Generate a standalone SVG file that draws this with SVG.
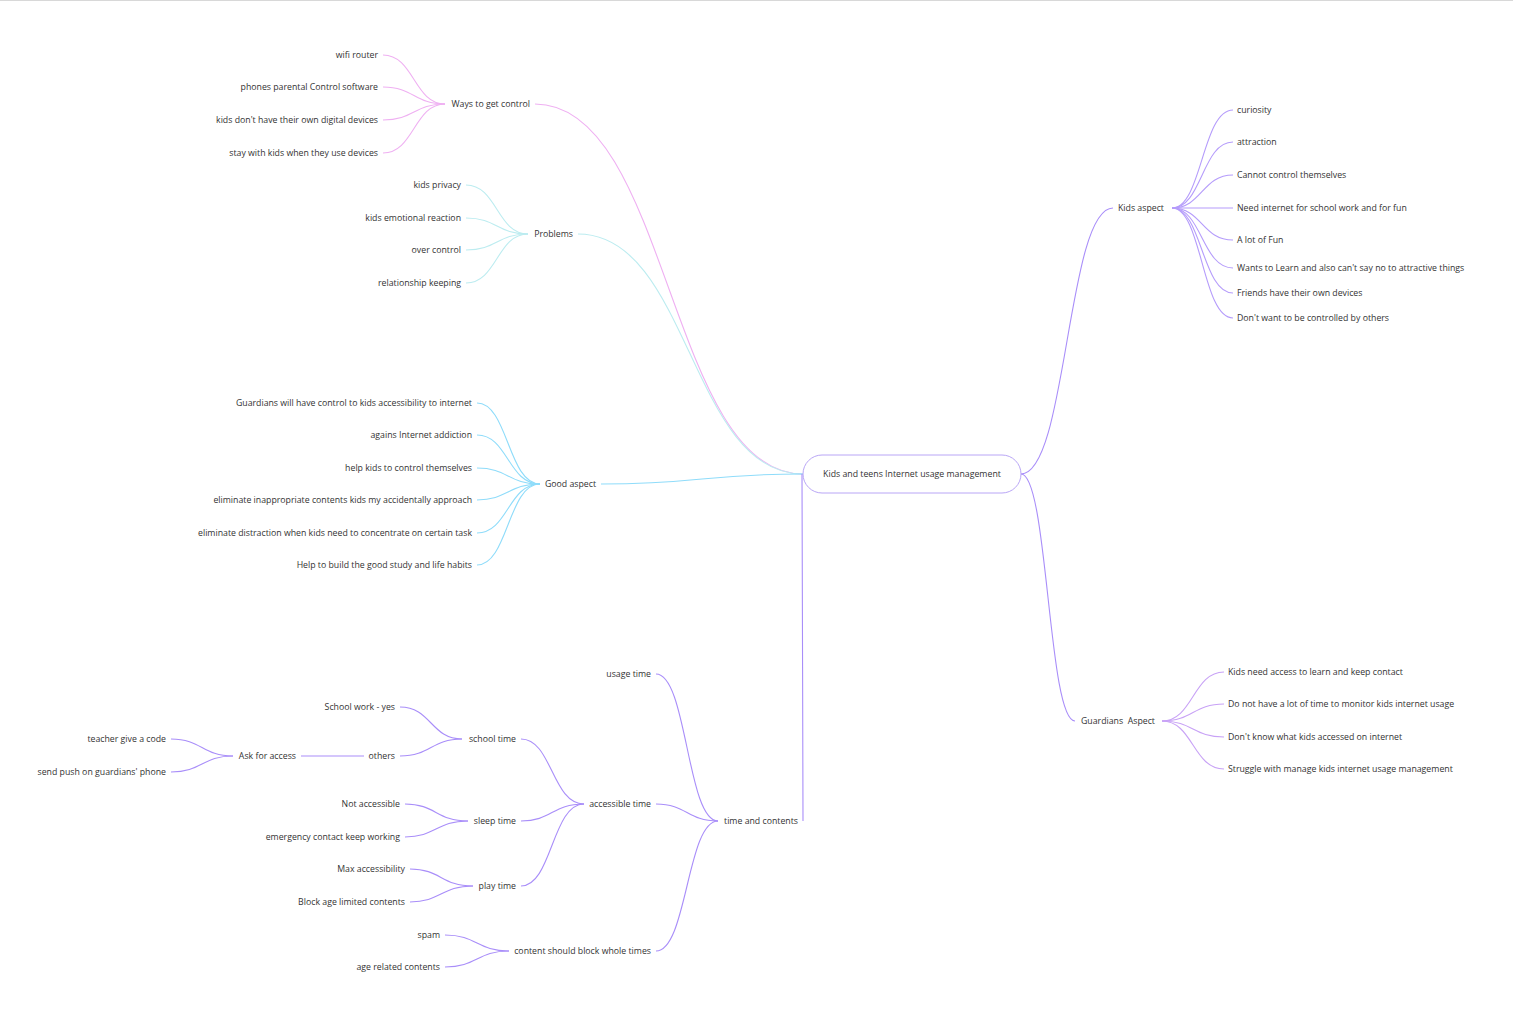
<svg xmlns="http://www.w3.org/2000/svg" width="1513" height="1015" viewBox="0 0 1513 1015">
<style>
text{font-family:"Open Sans","Noto Sans","Liberation Sans",sans-serif;font-size:8.75px;fill:#333;}
.e{text-anchor:end}
.c{fill:none;stroke-width:1.1}
.pk{stroke:#efb0f2}
.cy{stroke:#bcecf0}
.bl{stroke:#8fdcfa}
.pu{stroke:#a98ef9}
.pu2{stroke:#b59cfb}
.la{stroke:#c8a2f6}
</style>
<rect x="0" y="0" width="1513" height="1015" fill="#fff"/>
<line x1="0" y1="0.5" x2="1513" y2="0.5" stroke="#d8d8d8" stroke-width="1"/>
<g id="connectors">
<path class="c pk" d="M803,474 C669,474 669,104 535,104"/>
<path class="c cy" d="M803,474 C690,474 690,234 578,234"/>
<path class="c bl" d="M803,474 C702,474 702,484 601,484" stroke-width="1.3"/>
<path class="c pu" d="M802,474 C802,600 803,700 803,821"/>
<path class="c pu" d="M1021,474 C1067,474 1067,208 1113,208"/>
<path class="c pu" d="M1021,474 C1048,474 1048,721 1075,721"/>
<path class="c pk" d="M445,104 C414,104 414,55 383,55"/>
<path class="c pk" d="M445,104 C414,104 414,87 383,87"/>
<path class="c pk" d="M445,104 C414,104 414,120 383,120"/>
<path class="c pk" d="M445,104 C414,104 414,153 383,153"/>
<path class="c cy" d="M528,234 C497,234 497,185 466,185"/>
<path class="c cy" d="M528,234 C497,234 497,218 466,218"/>
<path class="c cy" d="M528,234 C497,234 497,250 466,250"/>
<path class="c cy" d="M528,234 C497,234 497,283 466,283"/>
<path class="c bl" d="M540,484 C508,484 508,403 477,403"/>
<path class="c bl" d="M540,484 C508,484 508,435 477,435"/>
<path class="c bl" d="M540,484 C508,484 508,468 477,468"/>
<path class="c bl" d="M540,484 C508,484 508,500 477,500"/>
<path class="c bl" d="M540,484 C508,484 508,533 477,533"/>
<path class="c bl" d="M540,484 C508,484 508,565 477,565"/>
<path class="c pu2" d="M1172,208 C1202,208 1202,110 1233,110"/>
<path class="c pu2" d="M1172,208 C1202,208 1202,142 1233,142"/>
<path class="c pu2" d="M1172,208 C1202,208 1202,175 1233,175"/>
<path class="c pu2" d="M1172,208 C1202,208 1202,208 1233,208"/>
<path class="c pu2" d="M1172,208 C1202,208 1202,240 1233,240"/>
<path class="c pu2" d="M1172,208 C1202,208 1202,268 1233,268"/>
<path class="c pu2" d="M1172,208 C1202,208 1202,293 1233,293"/>
<path class="c pu2" d="M1172,208 C1202,208 1202,318 1233,318"/>
<path class="c la" d="M1162,721 C1193,721 1193,672 1224,672"/>
<path class="c la" d="M1162,721 C1193,721 1193,704 1224,704"/>
<path class="c la" d="M1162,721 C1193,721 1193,737 1224,737"/>
<path class="c la" d="M1162,721 C1193,721 1193,769 1224,769"/>
<path class="c pu" d="M718,821 C687,821 687,674 656,674"/>
<path class="c pu" d="M718,821 C687,821 687,804 656,804"/>
<path class="c pu" d="M718,821 C687,821 687,951 656,951"/>
<path class="c pu" d="M584,804 C552,804 552,739 521,739"/>
<path class="c pu" d="M584,804 C552,804 552,821 521,821"/>
<path class="c pu" d="M584,804 C552,804 552,886 521,886"/>
<path class="c pu" d="M462,739 C431,739 431,707 400,707"/>
<path class="c pu" d="M462,739 C431,739 431,756 400,756"/>
<path class="c pu" d="M301,756 L364,756"/>
<path class="c pu" d="M233,756 C202,756 202,739 171,739"/>
<path class="c pu" d="M233,756 C202,756 202,772 171,772"/>
<path class="c pu" d="M468,821 C436,821 436,804 405,804"/>
<path class="c pu" d="M468,821 C436,821 436,837 405,837"/>
<path class="c pu" d="M473,886 C441,886 441,869 410,869"/>
<path class="c pu" d="M473,886 C441,886 441,902 410,902"/>
<path class="c pu" d="M509,951 C477,951 477,935 445,935"/>
<path class="c pu" d="M509,951 C477,951 477,967 445,967"/>
</g>
<g id="root"><rect x="803" y="455" width="218" height="38" rx="19" fill="#fff" stroke="#b9a6f6" stroke-width="1"/><text x="912" y="477" text-anchor="middle">Kids and teens Internet usage management</text></g>
<g id="ways"><text class="e" x="530" y="107">Ways to get control</text></g>
<g id="w1"><text class="e" x="378" y="58">wifi router</text></g>
<g id="w2"><text class="e" x="378" y="90">phones parental Control software</text></g>
<g id="w3"><text class="e" x="378" y="123">kids don't have their own digital devices</text></g>
<g id="w4"><text class="e" x="378" y="156">stay with kids when they use devices</text></g>
<g id="problems"><text class="e" x="573" y="237">Problems</text></g>
<g id="p1"><text class="e" x="461" y="188">kids privacy</text></g>
<g id="p2"><text class="e" x="461" y="221">kids emotional reaction</text></g>
<g id="p3"><text class="e" x="461" y="253">over control</text></g>
<g id="p4"><text class="e" x="461" y="286">relationship keeping</text></g>
<g id="good"><text class="e" x="596" y="487">Good aspect</text></g>
<g id="g1"><text class="e" x="472" y="406">Guardians will have control to kids accessibility to internet</text></g>
<g id="g2"><text class="e" x="472" y="438">agains Internet addiction</text></g>
<g id="g3"><text class="e" x="472" y="471">help kids to control themselves</text></g>
<g id="g4"><text class="e" x="472" y="503">eliminate inappropriate contents kids my accidentally approach</text></g>
<g id="g5"><text class="e" x="472" y="536">eliminate distraction when kids need to concentrate on certain task</text></g>
<g id="g6"><text class="e" x="472" y="568">Help to build the good study and life habits</text></g>
<g id="tc"><text class="e" x="798" y="824">time and contents</text></g>
<g id="usage"><text class="e" x="651" y="677">usage time</text></g>
<g id="acc"><text class="e" x="651" y="807">accessible time</text></g>
<g id="content"><text class="e" x="651" y="954">content should block whole times</text></g>
<g id="school"><text class="e" x="516" y="742">school time</text></g>
<g id="sleep"><text class="e" x="516" y="824">sleep time</text></g>
<g id="play"><text class="e" x="516" y="889">play time</text></g>
<g id="sw"><text class="e" x="395" y="710">School work - yes</text></g>
<g id="others"><text class="e" x="395" y="759">others</text></g>
<g id="ask"><text class="e" x="296" y="759">Ask for access</text></g>
<g id="a1"><text class="e" x="166" y="742">teacher give a code</text></g>
<g id="a2"><text class="e" x="166" y="775">send push on guardians' phone</text></g>
<g id="s1"><text class="e" x="400" y="807">Not accessible</text></g>
<g id="s2"><text class="e" x="400" y="840">emergency contact keep working</text></g>
<g id="pl1"><text class="e" x="405" y="872">Max accessibility</text></g>
<g id="pl2"><text class="e" x="405" y="905">Block age limited contents</text></g>
<g id="c1"><text class="e" x="440" y="938">spam</text></g>
<g id="c2"><text class="e" x="440" y="970">age related contents</text></g>
<g id="kids"><text x="1118" y="211">Kids aspect</text></g>
<g id="k1"><text x="1237" y="113">curiosity</text></g>
<g id="k2"><text x="1237" y="145">attraction</text></g>
<g id="k3"><text x="1237" y="178">Cannot control themselves</text></g>
<g id="k4"><text x="1237" y="211">Need internet for school work and for fun</text></g>
<g id="k5"><text x="1237" y="243">A lot of Fun</text></g>
<g id="k6"><text x="1237" y="271">Wants to Learn and also can't say no to attractive things</text></g>
<g id="k7"><text x="1237" y="296">Friends have their own devices</text></g>
<g id="k8"><text x="1237" y="321">Don't want to be controlled by others</text></g>
<g id="guard"><text x="1081" y="724" xml:space="preserve">Guardians  Aspect</text></g>
<g id="gu1"><text x="1228" y="675">Kids need access to learn and keep contact</text></g>
<g id="gu2"><text x="1228" y="707">Do not have a lot of time to monitor kids internet usage</text></g>
<g id="gu3"><text x="1228" y="740">Don't know what kids accessed on internet</text></g>
<g id="gu4"><text x="1228" y="772">Struggle with manage kids internet usage management</text></g>
</svg>
